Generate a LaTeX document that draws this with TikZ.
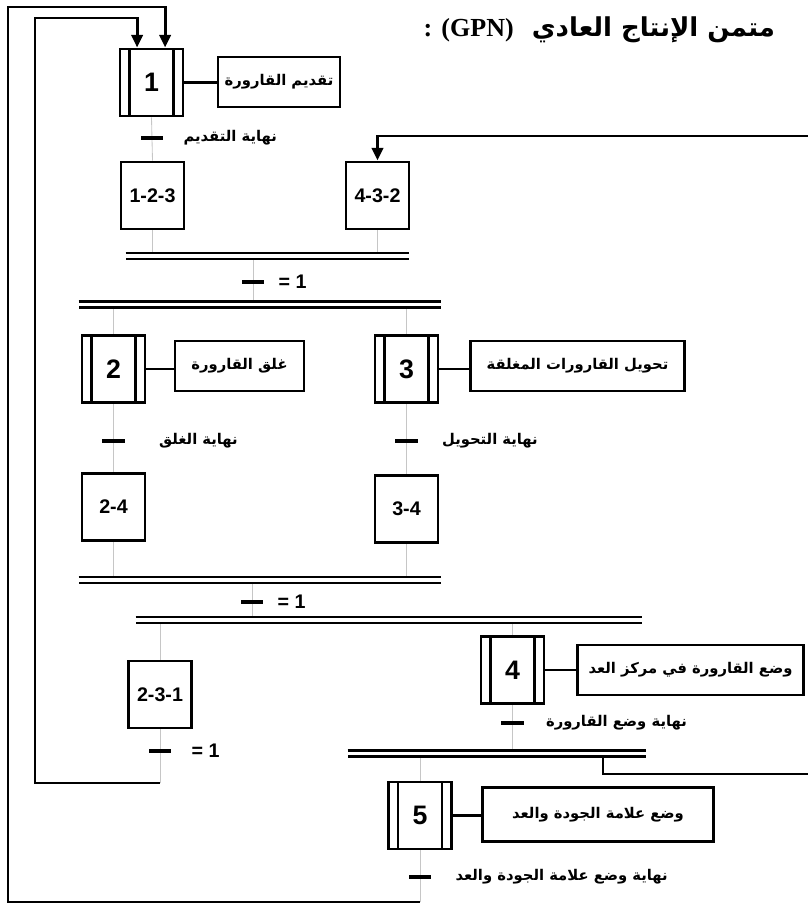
\documentclass[tikz,border=0pt]{standalone}
\usepackage{fontspec}
\setmainfont{Liberation Sans}
\newfontfamily\arabicfont[Script=Arabic]{DejaVu Sans}
\newfontfamily\titlefont{Liberation Serif}
\TeXXeTstate=1
\usetikzlibrary{positioning}
\usetikzlibrary{arrows.meta, backgrounds}
\newcommand{\artxt}[1]{{\arabicfont\bfseries\beginR #1\endR}}

\begin{document}
\begin{tikzpicture}[x=0.025cm, y=-0.025cm, >={Triangle[length=9pt,width=8pt]},
  etape/.style={draw, line width=2.1pt, minimum width=1.575cm, minimum height=1.675cm, inner sep=0pt,
    font=\fontsize{19}{19}\selectfont\bfseries,
    path picture={\draw[line width=1.7pt]
      ([xshift=0.24cm]path picture bounding box.south west) -- ([xshift=0.24cm]path picture bounding box.north west)
      ([xshift=-0.24cm]path picture bounding box.south east) -- ([xshift=-0.24cm]path picture bounding box.north east);}},
  boite/.style={draw, line width=2.1pt, minimum width=1.575cm, minimum height=1.675cm, inner sep=0pt,
    font=\fontsize{14}{14}\selectfont\bfseries},
  action/.style={draw, line width=2.1pt, minimum height=1.25cm, inner sep=2pt, font=\fontsize{10.5}{13}\selectfont},
  barre/.style={minimum height=0.15cm, inner sep=0pt},
  sync/.style={double, line width=1.6pt, double distance=2.6pt},
  tiret/.style={fill, minimum width=0.55cm, minimum height=0.08cm, inner sep=0pt},
  recep/.style={inner sep=0pt, font=\fontsize{10.5}{13}\selectfont\bfseries},
  flux/.style={draw=gray!45, line width=0.6pt},
  boucle/.style={line width=2.1pt},
  lien/.style={line width=1.8pt}]

\useasboundingbox (0,0) rectangle (808,904);
\clip (0,0) rectangle (808,904);

% Nodes
\node[anchor=east] (titre) at (780,30) {\fontsize{18.5}{22}\selectfont\bfseries\arabicfont\beginR متمن الإنتاج العادي\ \ \beginL{\titlefont (GPN)}\endL{} {\titlefont :}\endR};

\node[etape] (e1) at (151.5,82.5) {1};
\node[action, minimum width=3.05cm] (a1) at (279,82) {\artxt{تقديم القارورة}};
\node[tiret] (t1) at (152,138) {};
\node[recep, right=0.5cm of t1] (r1) {\artxt{نهاية التقديم}};
\node[boite] (n123) at (152.5,195.5) {1-2-3};
\node[boite] (n432) at (377.5,195.5) {4-3-2};
\node[barre, minimum width=7.075cm] (s1) at (267.5,256) {};
\node[tiret] (t12) at (253,282) {};
\node[recep, right=0.35cm of t12, font=\fontsize{14}{14}\selectfont\bfseries] (r12) {= 1};
\node[barre, minimum width=9.05cm] (s2) at (260,304.5) {};

\node[etape] (e2) at (113.5,369) {2};
\node[action, minimum width=3.225cm] (a2) at (239.5,366) {\artxt{غلق القارورة}};
\node[etape] (e3) at (406.5,369) {3};
\node[action, minimum width=5.325cm] (a3) at (577.5,366) {\artxt{تحويل القارورات المغلقة}};
\node[tiret] (t2) at (113.5,441) {};
\node[recep, right=0.85cm of t2] (r2) {\artxt{نهاية الغلق}};
\node[tiret] (t3) at (406.5,441) {};
\node[recep, right=0.6cm of t3] (r3) {\artxt{نهاية التحويل}};
\node[boite] (n24) at (113.5,507) {2-4};
\node[boite] (n34) at (406.5,509) {3-4};
\node[barre, minimum width=9.05cm] (s3) at (260,580) {};
\node[tiret] (t34) at (252,602) {};
\node[recep, right=0.35cm of t34, font=\fontsize{14}{14}\selectfont\bfseries] (r34) {= 1};
\node[barre, minimum width=12.65cm] (s4) at (389,620) {};

\node[boite] (n231) at (160,694.5) {2-3-1};
\node[tiret] (t231) at (160,751) {};
\node[recep, right=0.5cm of t231, font=\fontsize{14}{14}\selectfont\bfseries] (r231) {= 1};
\node[etape] (e4) at (512.5,670) {4};
\node[action, minimum width=5.625cm] (a4) at (690.5,670) {\artxt{وضع القارورة في مركز العد}};
\node[tiret] (t4) at (512.5,723) {};
\node[recep, right=0.55cm of t4] (r4) {\artxt{نهاية وضع القارورة}};
\node[barre, minimum width=7.45cm] (s5) at (497,753.5) {};

\node[etape] (e5) at (420,815.5) {5};
\node[action, minimum width=5.75cm, minimum height=1.35cm] (a5) at (598,814.5) {\artxt{وضع علامة الجودة والعد}};
\node[tiret] (t5) at (420,877) {};
\node[recep, right=0.6cm of t5] (r5) {\artxt{نهاية وضع علامة الجودة والعد}};

\coordinate (bas231) at (160,783);
\coordinate (coinint) at (35,18);
\coordinate (bas5) at (420,902);
\coordinate (coinext) at (8,7);
\coordinate (sortie) at (603,757);
\coordinate (droite) at (818,774);
\coordinate (haut) at (818,136);
\coordinate (in1a) at ([xshift=0.34cm]e1.north);
\coordinate (in1b) at ([xshift=-0.36cm]e1.north);

% Flow lines
\begin{scope}[on background layer]
\draw[flux] (e1.south) -- (n123.north);
\draw[flux] (n123.south) -- (n123 |- s1.north);
\draw[flux] (n432.south) -- (n432 |- s1.north);
\draw[flux] (t12 |- s1.south) -- (t12 |- s2.north);
\draw[flux] (e2 |- s2.south) -- (e2.north);
\draw[flux] (e3 |- s2.south) -- (e3.north);
\draw[flux] (e2.south) -- (n24.north);
\draw[flux] (e3.south) -- (n34.north);
\draw[flux] (n24.south) -- (n24 |- s3.north);
\draw[flux] (n34.south) -- (n34 |- s3.north);
\draw[flux] (t34 |- s3.south) -- (t34 |- s4.north);
\draw[flux] (n231 |- s4.south) -- (n231.north);
\draw[flux] (e4 |- s4.south) -- (e4.north);
\draw[flux] (e4.south) -- (e4 |- s5.north);
\draw[flux] (e5 |- s5.south) -- (e5.north);
\draw[flux] (n231.south) -- (bas231);
\draw[flux] (e5.south) -- (bas5);
\end{scope}

% Step to action links
\draw[lien] (e1.east) -- (e1.east -| a1.west);
\draw[lien] (e2.east) -- (e2.east -| a2.west);
\draw[lien] (e3.east) -- (e3.east -| a3.west);
\draw[lien] (e4.east) -- (e4.east -| a4.west);
\draw[lien] (e5.east) -- (e5.east -| a5.west);

% Double bars
\draw[sync] (s1.west) -- (s1.east);
\draw[sync] (s2.west) -- (s2.east);
\draw[sync] (s3.west) -- (s3.east);
\draw[sync] (s4.west) -- (s4.east);
\draw[sync] (s5.west) -- (s5.east);

% Loops
\draw[boucle,->] (bas231) -| (coinint) -| (in1b);
\draw[boucle,->] (bas5) -| (coinext) -| (in1a);
\draw[boucle,->] (sortie) |- (droite) -- (haut) -| (n432.north);

\end{tikzpicture}
\end{document}
